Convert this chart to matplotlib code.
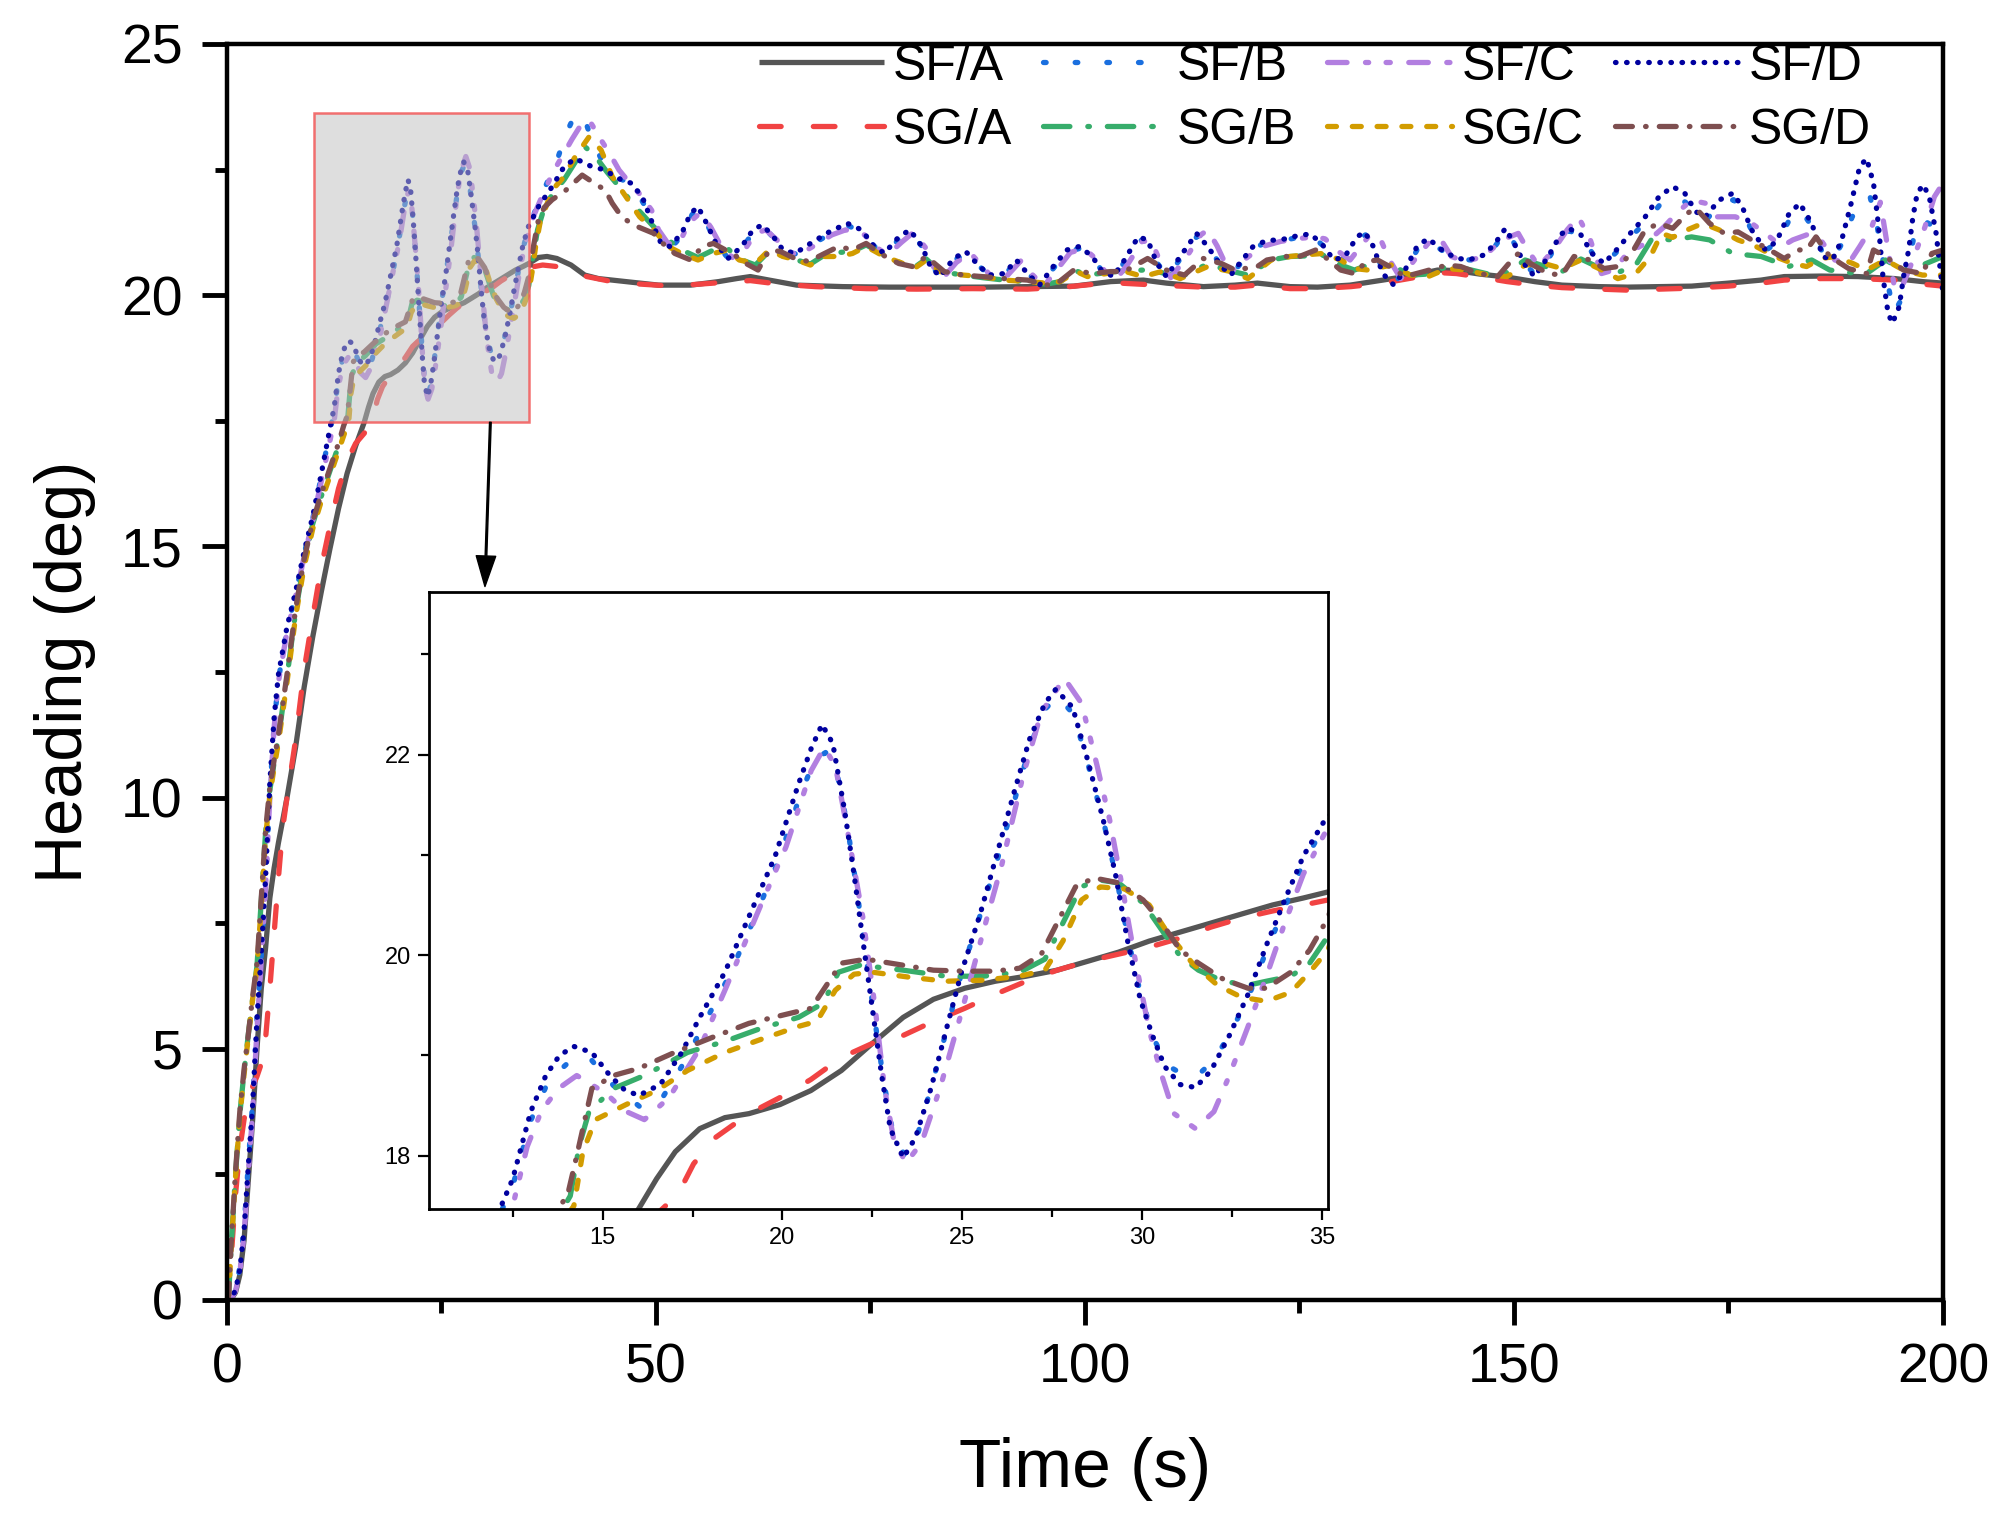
import matplotlib
matplotlib.use("Agg")
import matplotlib.pyplot as plt
from matplotlib.patches import Rectangle
from matplotlib.ticker import MultipleLocator

plt.rcParams['font.family'] = ['Liberation Sans', 'DejaVu Sans']

# heading data (time s, heading deg)
sf_a = [(0, 0), (0.5, 0.02), (1.0, 0.15), (1.5, 0.5), (2.0, 1.2), (2.5, 2.4), (3.0, 3.6), (3.5, 5.0), (4.0, 6.2),
        (4.5, 7.0), (5.0, 8.0), (5.5, 8.6), (6.0, 9.1), (7.0, 10.0), (8.0, 11.0), (9.0, 12.2), (10.0, 13.2),
        (11.0, 14.1), (12.0, 14.95), (13.0, 15.75), (14.0, 16.45), (15.0, 17.0), (16.0, 17.47), (16.5, 17.77),
        (17.02, 18.04), (17.7, 18.27), (18.4, 18.38), (19.07, 18.42), (19.93, 18.51), (20.79, 18.65), (21.64, 18.85),
        (22.5, 19.12), (23.36, 19.38), (24.2, 19.56), (25.07, 19.67), (25.92, 19.74), (26.78, 19.79), (27.64, 19.85),
        (28.5, 19.94), (29.35, 20.03), (30.2, 20.14), (31.06, 20.23), (31.92, 20.32), (32.77, 20.41), (33.63, 20.5),
        (34.49, 20.57), (35.17, 20.63), (36.3, 20.75), (37.3, 20.77), (38.45, 20.73), (40.1, 20.6), (41.7, 20.4),
        (43.3, 20.33), (46.5, 20.27), (50.3, 20.2), (54.05, 20.2), (57.3, 20.27), (59.4, 20.33), (61.0, 20.37),
        (63.2, 20.3), (66.4, 20.2), (71.8, 20.17), (77.2, 20.16), (82.6, 20.16), (88.0, 20.16), (93.3, 20.17),
        (98.7, 20.18), (103.0, 20.27), (106.8, 20.3), (109.5, 20.24), (113.8, 20.17), (117.5, 20.2), (120.1, 20.24),
        (123.9, 20.17), (127.1, 20.16), (130.9, 20.2), (134.7, 20.3), (138.4, 20.4), (141.1, 20.5), (143.3, 20.49),
        (146.0, 20.42), (149.2, 20.36), (152.4, 20.27), (155.6, 20.2), (159.9, 20.17), (163.2, 20.16), (166.9, 20.17),
        (170.7, 20.18), (175.0, 20.24), (178.8, 20.3), (181.5, 20.37), (185.8, 20.38), (190.1, 20.37), (194.4, 20.33),
        (197.6, 20.27), (200.0, 20.24)]

sg_a = [(0, 0), (0.5, 0.85), (1.0, 2.1), (1.5, 3.0), (2.0, 3.6), (2.5, 4.0), (3.0, 4.25), (3.5, 4.45), (4.0, 4.7),
        (4.5, 5.2), (5.0, 6.2), (5.5, 7.3), (6.0, 8.4), (6.5, 9.4), (7.0, 10.0), (8.0, 11.15), (9.0, 12.55),
        (10.0, 13.6), (11.0, 14.6), (12.0, 15.4), (13.0, 16.15), (14.0, 16.7), (15.0, 17.05), (16.0, 17.25),
        (16.6, 17.45), (17.1, 17.62), (17.53, 17.92), (18.13, 18.18), (19.07, 18.42), (19.93, 18.58), (20.79, 18.76),
        (21.64, 18.98), (22.5, 19.12), (23.36, 19.2), (24.2, 19.34), (25.07, 19.47), (25.92, 19.61), (26.78, 19.74),
        (27.64, 19.85), (28.5, 19.94), (29.35, 20.01), (30.2, 20.08), (31.06, 20.17), (31.92, 20.28), (32.77, 20.37),
        (33.63, 20.44), (34.49, 20.5), (35.17, 20.55), (36.8, 20.6), (38.45, 20.57), (40.1, 20.5), (41.95, 20.37),
        (45.45, 20.25), (51.9, 20.18), (56.7, 20.24), (61.0, 20.29), (64.3, 20.22), (68.6, 20.17), (74.5, 20.13),
        (80.4, 20.12), (86.9, 20.13), (93.3, 20.12), (97.6, 20.16), (103.0, 20.25), (108.4, 20.2), (113.8, 20.16),
        (117.5, 20.16), (120.0, 20.2), (123.9, 20.13), (127.1, 20.13), (131.0, 20.17), (134.7, 20.24), (138.4, 20.35),
        (141.1, 20.45), (143.3, 20.43), (146.0, 20.36), (149.2, 20.27), (152.4, 20.2), (155.6, 20.15), (160.0, 20.12),
        (163.2, 20.1), (167.0, 20.12), (170.7, 20.14), (175.0, 20.18), (178.8, 20.24), (181.5, 20.3), (185.8, 20.33),
        (190.1, 20.33), (194.4, 20.3), (197.6, 20.22), (200.0, 20.18)]

sf_b = [(0, 0), (0.5, 0.03), (1.0, 0.22), (1.5, 0.65), (2.0, 1.45), (2.5, 2.75), (3.0, 3.95), (3.5, 5.6), (4.0, 6.85),
        (4.5, 8.3), (5.0, 10.1), (5.5, 11.45), (6.0, 12.35), (7.0, 13.35), (8.0, 14.05), (9.0, 14.85), (10.0, 15.55),
        (11.0, 16.4), (12.0, 17.3), (12.5, 17.7), (13.0, 18.35), (13.5, 18.75), (14.2, 18.98), (14.7, 18.95),
        (15.3, 18.7), (16.1, 18.47), (16.7, 18.6), (17.3, 18.95), (17.8, 19.3), (18.5, 19.78), (19.2, 20.35),
        (19.9, 20.95), (20.5, 21.6), (20.9, 21.95), (21.2, 22.02), (21.5, 21.85), (21.8, 21.3), (22.05, 20.7),
        (22.3, 20.05), (22.55, 19.4), (22.8, 18.78), (23.05, 18.27), (23.4, 18.0), (23.75, 18.2), (24.15, 18.7),
        (24.6, 19.3), (25.0, 19.85), (25.5, 20.4), (25.95, 20.92), (26.5, 21.6), (26.9, 22.1), (27.3, 22.45),
        (27.65, 22.58), (28.1, 22.4), (28.5, 21.9), (28.95, 21.3), (29.3, 20.75), (29.65, 20.1), (30.0, 19.55),
        (30.35, 19.15), (30.7, 18.9), (31.2, 18.8), (31.6, 18.82), (32.0, 18.95), (32.5, 19.25), (33.0, 19.62),
        (33.5, 20.08), (34.0, 20.5), (34.5, 20.93), (35.1, 21.3), (36.3, 21.85), (37.6, 22.35), (38.6, 22.75),
        (39.5, 23.2), (40.3, 23.5), (41.1, 23.62), (41.8, 23.45), (42.6, 23.05), (43.6, 22.72), (45.0, 22.42),
        (46.5, 22.25), (47.8, 22.05), (48.8, 21.75), (49.9, 21.28), (50.8, 21.0), (51.8, 20.95), (53.1, 21.2),
        (54.2, 21.6), (55.0, 21.72), (56.0, 21.4), (57.1, 21.0), (58.5, 20.72), (60.1, 20.95), (61.4, 21.27),
        (62.5, 21.36), (63.8, 21.13), (64.9, 20.88), (66.3, 20.82), (68.1, 21.0), (70.3, 21.22), (72.4, 21.38),
        (74.0, 21.27), (75.4, 20.98), (76.7, 20.82), (78.4, 21.13), (79.7, 21.25), (81.1, 20.95), (82.1, 20.57),
        (83.2, 20.38), (84.8, 20.7), (86.2, 20.83), (87.5, 20.6), (88.9, 20.4), (90.7, 20.43), (92.1, 20.66),
        (93.4, 20.42), (94.8, 20.22), (96.4, 20.55), (98.0, 20.87), (99.4, 20.93), (100.9, 20.74), (102.0, 20.48),
        (103.4, 20.38), (104.7, 20.68), (106.3, 21.1), (107.4, 21.06), (108.5, 20.62), (109.6, 20.38), (111.2, 20.74),
        (113.1, 21.18), (114.4, 20.94), (116.0, 20.56), (117.1, 20.42), (118.1, 20.62), (119.7, 20.94), (121.3, 21.06),
        (122.9, 21.08), (124.8, 21.15), (126.4, 21.18), (127.8, 20.98), (129.1, 20.7), (130.4, 20.76), (131.8, 21.12),
        (132.7, 21.2), (133.7, 20.95), (134.8, 20.45), (136.1, 20.25), (137.4, 20.5), (138.8, 20.93), (140.1, 21.08),
        (141.7, 20.88), (143.4, 20.72), (145.0, 20.7), (146.6, 20.8), (147.9, 21.0), (149.1, 21.28), (150.3, 20.96),
        (151.4, 20.6), (152.5, 20.4), (154.1, 20.75), (155.5, 21.15), (156.5, 21.28), (157.9, 21.16), (159.2, 20.82),
        (160.6, 20.63), (162.2, 20.9), (163.8, 21.2), (165.4, 21.45), (167.0, 21.8), (168.6, 21.95), (170.0, 21.85),
        (171.3, 21.55), (172.4, 21.5), (174.0, 21.8), (175.6, 21.9), (176.7, 21.65), (177.8, 21.25), (179.4, 20.9),
        (180.7, 21.05), (182.1, 21.5), (183.4, 21.7), (184.8, 21.35), (186.1, 20.78), (187.2, 20.72), (188.3, 21.05),
        (189.4, 21.55), (190.5, 21.9), (191.5, 21.96), (192.3, 21.4), (193.2, 20.5), (194.3, 19.65), (195.1, 19.9),
        (195.9, 20.6), (196.8, 21.3), (197.6, 21.5), (198.6, 21.4), (199.4, 21.2), (200.0, 21.0)]

sg_b = [(0, 0), (0.2, 0.1), (0.5, 1.1), (1.0, 2.5), (1.5, 3.7), (2.0, 4.55), (2.5, 5.3), (3.0, 6.0), (3.5, 6.65),
        (4.0, 7.95), (4.5, 9.3), (5.0, 10.15), (5.5, 10.7), (6.0, 11.2), (7.0, 12.4), (8.0, 13.7), (9.0, 14.7),
        (10.0, 15.45), (11.0, 16.0), (12.0, 16.5), (13.0, 17.0), (13.7, 17.35), (14.1, 17.6), (14.35, 18.1),
        (14.62, 18.44), (15.3, 18.67), (16.16, 18.8), (17.36, 19.03), (18.4, 19.14), (19.4, 19.27), (20.45, 19.38),
        (21.13, 19.52), (21.56, 19.83), (22.16, 19.9), (23.36, 19.85), (24.55, 19.79), (25.58, 19.79), (26.6, 19.83),
        (27.3, 19.96), (27.8, 20.32), (28.3, 20.68), (28.8, 20.75), (29.35, 20.72), (30.03, 20.52), (30.55, 20.25),
        (31.06, 19.99), (31.57, 19.85), (32.26, 19.74), (32.95, 19.7), (33.46, 19.74), (34.14, 19.79), (34.66, 19.92),
        (35.17, 20.19), (35.6, 20.7), (36.2, 21.3), (37.0, 21.75), (37.9, 22.0), (39.3, 22.3), (40.6, 22.65),
        (41.7, 22.96), (43.0, 22.75), (44.3, 22.45), (45.7, 22.16), (47.6, 21.76), (49.75, 21.36), (51.4, 21.1),
        (53.0, 20.9), (54.9, 20.75), (56.7, 20.9), (58.4, 20.92), (59.7, 20.72), (61.6, 20.6), (63.2, 20.88),
        (64.8, 20.78), (66.4, 20.7), (68.0, 20.62), (69.65, 20.8), (71.3, 20.85), (72.9, 20.87), (74.5, 21.0),
        (76.6, 20.8), (78.8, 20.62), (80.1, 20.55), (81.5, 20.72), (83.1, 20.47), (85.8, 20.4), (88.0, 20.35),
        (90.6, 20.3), (93.3, 20.27), (95.5, 20.22), (97.1, 20.27), (99.0, 20.48), (100.3, 20.4), (102.5, 20.45),
        (104.1, 20.48), (106.8, 20.5), (108.9, 20.45), (111.1, 20.36), (114.3, 20.62), (117.0, 20.48), (119.0, 20.4),
        (121.7, 20.7), (123.9, 20.77), (125.5, 20.78), (127.7, 20.8), (129.8, 20.6), (131.4, 20.5), (133.0, 20.6),
        (135.7, 20.6), (137.9, 20.4), (140.0, 20.42), (142.2, 20.57), (144.3, 20.53), (147.0, 20.42), (149.2, 20.45),
        (151.3, 20.7), (153.5, 20.58), (155.6, 20.47), (157.8, 20.72), (159.9, 20.55), (162.1, 20.45), (164.2, 20.6),
        (166.1, 21.13), (168.5, 21.1), (170.7, 21.16), (172.8, 21.1), (175.5, 20.83), (178.8, 20.77), (182.0, 20.57),
        (184.7, 20.7), (186.8, 20.5), (189.0, 20.45), (191.1, 20.43), (193.3, 20.7), (195.4, 20.5), (197.6, 20.6),
        (200.0, 20.77)]

sf_c = [(0, 0), (0.5, 0.02), (1.0, 0.18), (1.5, 0.55), (2.0, 1.3), (2.5, 2.55), (3.0, 3.75), (3.5, 5.4), (4.0, 6.75),
        (4.5, 8.2), (5.0, 10.0), (5.5, 11.4), (6.0, 12.3), (7.0, 13.3), (8.0, 14.0), (9.0, 14.8), (10.0, 15.5),
        (11.0, 16.3), (12.0, 17.1), (12.5, 17.5), (12.9, 18.09), (13.3, 18.45), (13.77, 18.67), (14.28, 18.8),
        (15.1, 18.62), (15.6, 18.45), (16.16, 18.36), (16.85, 18.58), (17.7, 19.07), (18.4, 19.65), (19.4, 20.5),
        (20.1, 21.08), (20.8, 21.84), (21.16, 22.07), (21.47, 21.89), (21.8, 21.26), (22.24, 20.37), (22.58, 19.47),
        (22.84, 18.67), (23.1, 18.15), (23.44, 17.93), (23.87, 18.13), (24.38, 18.67), (24.98, 19.43), (25.58, 20.23),
        (26.1, 20.9), (26.7, 21.8), (27.2, 22.42), (27.84, 22.76), (28.32, 22.51), (28.75, 21.89), (29.1, 21.35),
        (29.43, 20.72), (29.78, 20.01), (30.2, 19.25), (30.55, 18.8), (30.89, 18.42), (31.49, 18.27), (32.0, 18.44),
        (32.43, 18.8), (32.95, 19.29), (33.46, 19.79), (33.97, 20.32), (34.49, 20.81), (35.09, 21.22), (35.8, 21.6),
        (36.8, 22.0), (38.0, 22.45), (39.2, 22.8), (40.2, 23.1), (41.3, 23.4), (42.2, 23.49), (43.6, 23.09),
        (44.6, 22.82), (45.7, 22.49), (47.3, 22.16), (48.4, 21.96), (49.5, 21.69), (50.3, 21.3), (51.4, 21.03),
        (52.7, 21.03), (53.8, 21.43), (54.9, 21.6), (55.3, 21.62), (56.4, 21.35), (57.5, 21.0), (58.9, 20.75),
        (60.4, 20.92), (61.6, 21.23), (62.8, 21.3), (64.1, 21.1), (65.2, 20.88), (66.6, 20.8), (68.4, 20.98),
        (70.5, 21.2), (72.1, 21.3), (74.3, 21.2), (75.7, 20.95), (77.0, 20.8), (78.6, 21.05), (80.0, 21.25),
        (81.4, 20.95), (82.4, 20.55), (83.5, 20.35), (85.0, 20.65), (86.6, 20.85), (87.8, 20.62), (89.2, 20.35),
        (91.0, 20.4), (92.5, 20.68), (93.8, 20.42), (95.2, 20.18), (96.7, 20.5), (98.3, 20.85), (99.9, 20.93),
        (101.3, 20.72), (102.3, 20.48), (103.7, 20.33), (105.0, 20.62), (106.7, 21.08), (107.8, 21.05), (108.9, 20.62),
        (110.0, 20.35), (111.6, 20.7), (113.5, 21.2), (114.3, 21.3), (115.4, 20.98), (116.9, 20.43), (118.5, 20.7),
        (120.7, 20.97), (122.8, 21.07), (125.0, 21.13), (126.9, 21.16), (128.0, 21.12), (129.3, 20.9), (130.9, 20.7),
        (133.0, 21.16), (134.4, 21.13), (135.5, 20.7), (136.8, 20.33), (138.4, 20.7), (140.0, 21.03), (141.4, 21.13),
        (142.7, 20.77), (144.3, 20.67), (146.5, 20.77), (148.6, 21.1), (150.5, 21.23), (151.6, 20.9), (152.9, 20.57),
        (154.6, 20.9), (156.2, 21.3), (157.5, 21.56), (158.9, 21.1), (160.2, 20.43), (161.6, 20.5), (163.2, 20.83),
        (165.3, 21.03), (167.5, 21.36), (169.1, 21.66), (170.7, 21.89), (172.3, 21.83), (173.7, 21.56), (175.8, 21.56),
        (177.7, 21.43), (179.3, 21.23), (181.2, 20.97), (182.5, 21.1), (184.1, 21.2), (185.5, 21.16), (187.4, 20.7),
        (189.0, 20.63), (190.3, 20.97), (191.7, 21.36), (192.7, 21.85), (193.6, 20.9), (194.4, 20.1), (195.4, 20.24),
        (196.5, 20.7), (197.9, 21.36), (199.0, 21.96), (200.0, 22.23)]

sg_c = [(0, 0), (0.2, 0.1), (0.5, 1.05), (1.0, 2.45), (1.5, 3.65), (2.0, 4.5), (2.5, 5.25), (3.0, 6.0), (3.5, 6.6),
        (4.0, 7.85), (4.5, 9.2), (5.0, 10.05), (5.5, 10.6), (6.0, 11.1), (7.0, 12.3), (8.0, 13.6), (9.0, 14.6),
        (10.0, 15.35), (11.0, 15.9), (12.0, 16.4), (13.0, 16.9), (13.7, 17.25), (14.2, 17.5), (14.45, 18.04),
        (14.8, 18.36), (15.65, 18.51), (16.5, 18.65), (17.36, 18.85), (18.4, 19.03), (19.4, 19.16), (20.45, 19.29),
        (20.96, 19.34), (21.47, 19.65), (21.99, 19.81), (22.5, 19.83), (23.53, 19.78), (24.55, 19.74), (25.58, 19.75),
        (26.6, 19.79), (27.3, 19.85), (27.8, 20.14), (28.32, 20.55), (28.84, 20.68), (29.52, 20.66), (30.2, 20.5),
        (30.7, 20.23), (31.4, 19.92), (32.1, 19.7), (32.77, 19.58), (33.46, 19.54), (34.14, 19.63), (34.66, 19.83),
        (35.17, 20.05), (35.6, 20.5), (36.0, 21.0), (36.5, 21.45), (37.9, 22.09), (39.3, 22.36), (40.6, 22.76),
        (42.2, 23.15), (43.6, 22.89), (44.9, 22.36), (46.5, 21.96), (48.1, 21.56), (49.75, 21.3), (51.4, 20.97),
        (53.0, 20.83), (54.9, 20.7), (56.7, 20.83), (58.4, 20.9), (59.7, 20.7), (61.6, 20.63), (63.2, 20.9),
        (64.8, 20.77), (66.4, 20.7), (68.0, 20.6), (69.65, 20.77), (71.3, 20.77), (72.9, 20.83), (74.5, 20.97),
        (76.6, 20.77), (78.8, 20.63), (80.1, 20.53), (81.5, 20.7), (83.1, 20.47), (85.8, 20.4), (88.0, 20.37),
        (90.6, 20.3), (93.3, 20.27), (95.5, 20.24), (97.1, 20.27), (99.0, 20.47), (100.3, 20.37), (102.5, 20.43),
        (104.1, 20.5), (106.8, 20.37), (108.9, 20.47), (111.1, 20.33), (114.3, 20.57), (117.0, 20.47), (119.0, 20.33),
        (121.7, 20.7), (123.9, 20.77), (125.5, 20.8), (127.7, 20.83), (129.8, 20.7), (131.4, 20.53), (133.0, 20.5),
        (135.7, 20.6), (137.9, 20.4), (140.0, 20.37), (142.2, 20.53), (144.3, 20.5), (147.0, 20.4), (149.2, 20.37),
        (151.3, 20.6), (153.5, 20.63), (155.6, 20.53), (157.8, 20.7), (159.9, 20.53), (162.1, 20.33), (164.2, 20.43),
        (165.9, 20.77), (167.2, 21.23), (168.5, 21.15), (170.2, 21.3), (172.0, 21.43), (173.9, 21.3), (176.1, 21.1),
        (178.2, 20.97), (180.4, 20.77), (182.5, 20.63), (184.1, 20.57), (185.8, 20.73), (187.4, 20.77), (189.5, 20.63),
        (191.1, 20.5), (193.3, 20.7), (195.4, 20.5), (197.6, 20.4), (200.0, 20.4)]

sf_d = [(0, 0), (0.5, 0.02), (1.0, 0.2), (1.5, 0.6), (2.0, 1.4), (2.5, 2.7), (3.0, 3.9), (3.5, 5.6), (4.0, 6.9),
        (4.5, 8.4), (5.0, 10.3), (5.5, 11.6), (6.0, 12.45), (7.0, 13.4), (8.0, 14.1), (9.0, 14.9), (10.0, 15.6),
        (11.0, 16.45), (12.0, 17.35), (12.5, 17.77), (13.0, 18.44), (13.42, 18.8), (13.8, 19.0), (14.2, 19.09),
        (14.7, 19.03), (15.2, 18.8), (15.6, 18.66), (16.0, 18.6), (16.6, 18.71), (17.2, 19.03), (17.7, 19.38),
        (18.4, 19.83), (19.1, 20.41), (19.8, 20.99), (20.45, 21.71), (20.8, 22.06), (21.1, 22.3), (21.4, 22.11),
        (21.73, 21.44), (21.99, 20.81), (22.24, 20.14), (22.5, 19.47), (22.76, 18.8), (23.0, 18.27), (23.36, 17.98),
        (23.7, 18.18), (24.13, 18.67), (24.55, 19.25), (24.98, 19.83), (25.5, 20.41), (25.92, 20.95), (26.44, 21.62),
        (26.87, 22.15), (27.3, 22.51), (27.6, 22.65), (28.07, 22.47), (28.5, 21.93), (28.92, 21.35), (29.26, 20.81),
        (29.6, 20.14), (29.95, 19.56), (30.29, 19.2), (30.63, 18.89), (31.06, 18.71), (31.49, 18.68), (31.92, 18.85),
        (32.43, 19.2), (32.95, 19.61), (33.46, 20.1), (33.97, 20.55), (34.49, 20.99), (35.09, 21.35), (36.3, 21.76),
        (37.9, 22.16), (39.3, 22.56), (40.6, 22.72), (42.5, 22.56), (44.1, 22.49), (45.45, 22.33), (47.1, 22.23),
        (48.4, 21.96), (49.75, 21.36), (50.6, 21.03), (51.6, 20.97), (53.0, 21.23), (54.05, 21.63), (54.9, 21.76),
        (55.9, 21.43), (57.0, 21.03), (58.4, 20.73), (60.0, 20.97), (61.3, 21.3), (62.4, 21.4), (63.7, 21.16),
        (64.8, 20.9), (66.2, 20.83), (68.0, 21.03), (70.2, 21.26), (72.3, 21.43), (73.95, 21.3), (75.3, 21.0),
        (76.6, 20.83), (78.3, 21.16), (79.6, 21.3), (81.0, 20.97), (82.0, 20.57), (83.1, 20.37), (84.7, 20.73),
        (86.1, 20.87), (87.4, 20.63), (88.8, 20.4), (90.6, 20.43), (92.0, 20.7), (93.3, 20.43), (94.7, 20.2),
        (96.3, 20.57), (97.9, 20.9), (99.35, 20.97), (100.85, 20.77), (101.9, 20.5), (103.3, 20.37), (104.6, 20.7),
        (106.2, 21.16), (107.3, 21.1), (108.4, 20.63), (109.5, 20.37), (111.1, 20.77), (113.0, 21.23), (114.3, 20.97),
        (115.9, 20.57), (117.0, 20.4), (118.0, 20.63), (119.6, 20.97), (121.2, 21.09), (122.8, 21.1), (124.7, 21.18),
        (126.3, 21.22), (127.7, 21.0), (129.0, 20.7), (130.3, 20.77), (131.7, 21.16), (132.6, 21.26), (133.6, 20.97),
        (134.7, 20.43), (136.0, 20.2), (137.3, 20.5), (138.7, 20.97), (140.0, 21.13), (141.6, 20.9), (143.3, 20.73),
        (144.9, 20.71), (146.5, 20.8), (147.8, 21.03), (149.0, 21.33), (150.2, 20.97), (151.3, 20.6), (152.4, 20.37),
        (154.0, 20.77), (155.4, 21.2), (156.4, 21.33), (157.8, 21.2), (159.1, 20.83), (160.5, 20.63), (162.1, 20.93),
        (163.7, 21.26), (165.3, 21.56), (166.9, 21.96), (168.5, 22.16), (169.9, 22.03), (171.2, 21.66), (172.3, 21.56),
        (173.9, 21.89), (175.5, 22.03), (176.6, 21.76), (177.7, 21.3), (179.3, 20.9), (180.6, 21.07), (182.0, 21.6),
        (183.3, 21.83), (184.7, 21.43), (186.0, 20.77), (187.1, 20.7), (188.2, 21.1), (189.3, 21.83), (190.3, 22.56),
        (191.1, 22.72), (191.9, 22.23), (192.5, 21.36), (193.0, 20.37), (193.6, 19.64), (194.1, 19.44), (194.9, 19.77),
        (195.4, 20.37), (196.0, 20.9), (196.5, 21.56), (197.0, 22.03), (197.7, 22.2), (198.4, 21.96), (199.2, 21.23),
        (200.0, 20.04)]

sg_d = [(0, 0), (0.2, 0.1), (0.5, 1.15), (1.0, 2.55), (1.5, 3.75), (2.0, 4.6), (2.5, 5.3), (3.0, 6.05), (3.5, 6.7),
        (4.0, 8.0), (4.5, 9.35), (5.0, 10.2), (5.5, 10.75), (6.0, 11.25), (7.0, 12.45), (8.0, 13.75), (9.0, 14.75),
        (10.0, 15.5), (11.0, 16.05), (12.0, 16.55), (13.0, 17.05), (13.6, 17.4), (14.02, 17.6), (14.28, 18.0),
        (14.7, 18.67), (15.3, 18.8), (16.0, 18.87), (17.0, 19.03), (18.05, 19.18), (19.07, 19.32), (20.1, 19.41),
        (20.8, 19.47), (21.3, 19.74), (21.64, 19.92), (22.33, 19.96), (23.36, 19.9), (24.2, 19.85), (25.07, 19.84),
        (25.92, 19.84), (26.6, 19.87), (27.2, 20.01), (27.64, 20.32), (28.15, 20.68), (28.66, 20.77), (29.35, 20.72),
        (30.03, 20.55), (30.55, 20.32), (31.06, 20.05), (31.57, 19.92), (32.26, 19.76), (32.95, 19.67), (33.46, 19.67),
        (34.14, 19.83), (34.66, 20.05), (35.17, 20.37), (35.7, 20.95), (36.3, 21.5), (37.0, 21.75), (37.9, 21.9),
        (39.5, 22.09), (41.4, 22.39), (42.8, 22.23), (44.1, 22.09), (44.9, 21.83), (46.0, 21.56), (47.1, 21.43),
        (47.9, 21.36), (49.75, 21.23), (50.8, 21.03), (52.2, 20.83), (54.05, 20.7), (55.4, 20.97), (56.7, 21.03),
        (58.1, 20.9), (59.4, 20.77), (60.5, 20.63), (61.9, 20.5), (63.2, 20.9), (64.5, 20.87), (66.2, 20.73),
        (67.8, 20.67), (69.65, 20.83), (71.3, 20.97), (72.9, 20.9), (74.5, 21.03), (76.1, 20.83), (78.3, 20.63),
        (79.9, 20.57), (81.5, 20.77), (83.6, 20.47), (85.8, 20.4), (88.0, 20.37), (90.6, 20.33), (93.3, 20.3),
        (95.5, 20.2), (96.8, 20.24), (98.7, 20.5), (100.85, 20.43), (103.0, 20.47), (104.6, 20.47), (107.3, 20.73),
        (109.5, 20.5), (111.6, 20.4), (113.8, 20.73), (115.9, 20.63), (117.5, 20.5), (120.1, 20.57), (121.2, 20.7),
        (123.4, 20.77), (125.0, 20.77), (126.9, 20.9), (128.2, 20.73), (129.8, 20.5), (131.4, 20.43), (132.8, 20.67),
        (134.1, 20.7), (135.5, 20.57), (137.3, 20.37), (139.5, 20.47), (142.2, 20.6), (143.8, 20.57), (145.9, 20.43),
        (148.1, 20.37), (149.4, 20.63), (150.5, 20.83), (151.9, 20.63), (154.0, 20.43), (155.6, 20.4), (157.0, 20.77),
        (158.9, 20.7), (160.5, 20.53), (162.1, 20.57), (163.7, 20.83), (165.3, 21.3), (166.9, 21.43), (168.5, 21.33),
        (170.2, 21.63), (171.2, 21.73), (172.8, 21.43), (174.5, 21.23), (176.1, 21.26), (177.7, 21.1), (179.8, 20.9),
        (181.5, 20.73), (183.1, 20.9), (184.1, 20.9), (185.2, 21.16), (186.8, 20.77), (189.0, 20.53), (191.1, 20.43),
        (191.9, 20.9), (193.3, 20.77), (195.4, 20.5), (197.6, 20.43), (198.7, 20.83), (200.0, 20.9)]

# label, data, colour, dash pattern (None = solid); order gives legend columns
series = [
    ("SF/A", sf_a, "#555555", None),
    ("SG/A", sg_a, "#f14343", (4.1, 6.1)),
    ("SF/B", sf_b, "#1a6fdf", (0.5, 5.5)),
    ("SG/B", sg_b, "#37ad6b", (5.0, 3.4, 0.3, 3.4)),
    ("SF/C", sf_c, "#b27fe0", (3.7, 3.5, 0.6, 3.3, 0.8, 3.5)),
    ("SG/C", sg_c, "#d29c00", (1.7, 3.0)),
    ("SF/D", sf_d, "#00009f", (0.1, 2.0)),
    ("SG/D", sg_d, "#7e4f50", (3.2, 2.5, 0.1, 2.5)),
]

LW = 3.8

fig = plt.figure(figsize=(20.12, 15.27), dpi=100)
ax = fig.add_axes([0.1128, 0.1487, 0.8529, 0.8225])
ins = fig.add_axes([0.2132, 0.2083, 0.4468, 0.4040])

handles = []
for label, data, color, dash in series:
    t = [p[0] for p in data]
    v = [p[1] for p in data]
    for a in (ax, ins):
        line, = a.plot(t, v, color=color, lw=LW, label=label,
                       dash_capstyle='round', solid_capstyle='butt')
        if dash is not None:
            line.set_dashes(dash)
        if a is ax:
            handles.append(line)

# main axes
ax.set_xlim(0, 200)
ax.set_ylim(0, 25)
ax.xaxis.set_major_locator(MultipleLocator(50))
ax.xaxis.set_minor_locator(MultipleLocator(25))
ax.yaxis.set_major_locator(MultipleLocator(5))
ax.yaxis.set_minor_locator(MultipleLocator(2.5))
ax.tick_params(axis='x', which='major', direction='out', length=18, width=3.5, labelsize=40, pad=13)
ax.tick_params(axis='y', which='major', direction='out', length=18, width=3.5, labelsize=40, pad=14)
ax.tick_params(which='minor', direction='out', length=9, width=3.5)
for s in ax.spines.values():
    s.set_linewidth(3.2)
ax.set_xlabel("Time (s)", fontsize=50, labelpad=30)
ax.set_ylabel("Heading (deg)", fontsize=48, labelpad=18)

# zoom box and arrow
ax.add_patch(Rectangle((10.17, 17.47), 25.0, 6.15, facecolor=(0.75, 0.75, 0.75, 0.5),
                       edgecolor=(0.95, 0.35, 0.35, 0.85), lw=1.8, zorder=5))
ax.annotate("", xy=(30.07, 14.2), xytext=(30.7, 17.47),
            arrowprops=dict(facecolor='black', edgecolor='black', width=1.2,
                            headwidth=14, headlength=22, shrink=0), zorder=6)

leg = ax.legend(handles=handles, ncol=4, loc='upper right', bbox_to_anchor=(0.9695, 1.0163),
                frameon=False, fontsize=36, handlelength=2.5, handletextpad=0.18,
                columnspacing=0.62, labelspacing=0.36, borderaxespad=0)

# inset
ins.set_xlim(10.17, 35.17)
ins.set_ylim(17.47, 23.62)
ins.xaxis.set_major_locator(MultipleLocator(5))
ins.xaxis.set_minor_locator(MultipleLocator(2.5))
ins.yaxis.set_major_locator(MultipleLocator(2))
ins.yaxis.set_minor_locator(MultipleLocator(1))
ins.tick_params(which='major', direction='out', length=8, width=1.6, labelsize=17, pad=5)
ins.tick_params(which='minor', direction='out', length=6, width=1.6)
for s in ins.spines.values():
    s.set_linewidth(2.0)

fig.savefig("out.png", dpi=100)
